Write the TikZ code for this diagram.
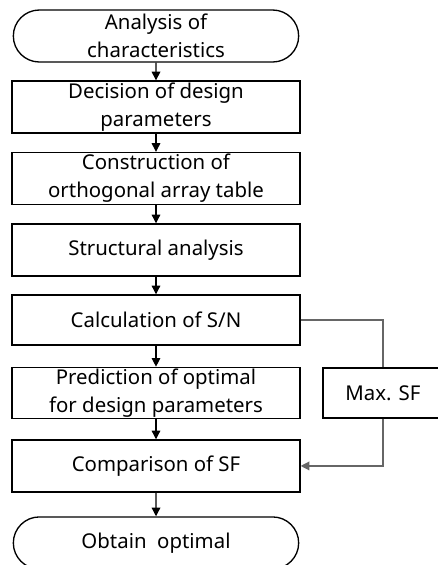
\documentclass[tikz,border=0pt]{standalone}
\usepackage{fontspec}
\setmainfont{Noto Sans}
\usetikzlibrary{shapes.misc,positioning,arrows.meta}
\tikzset{
  stepbox/.style={draw,line width=1pt,minimum width=216pt,minimum height=39pt,
    align=center,inner sep=1pt,font=\fontsize{15.3}{21}\selectfont},
  termbox/.style={stepbox,rounded rectangle},
  flow/.style={-{Triangle[length=6.5pt,width=6.5pt]},line width=.9pt},
  loopline/.style={line width=.9pt,draw=black!60}
}
\begin{document}
\begin{tikzpicture}[x=1pt,y=1pt,on grid]
  \useasboundingbox (0,0) rectangle (328.5,-423.75);
  % main column
  \node[termbox] (start) at (117,-27) {Analysis of\\characteristics};
  \node[stepbox,below=53.25pt of start] (design) {Decision of design\\parameters};
  \node[stepbox,below=53.6pt of design] (table) {Construction of\\orthogonal array table};
  \node[stepbox,below=53.6pt of table] (fem) {Structural analysis};
  \node[stepbox,below=52.5pt of fem,minimum height=37.5pt] (sn) {Calculation of S/N};
  \node[stepbox,below=54.75pt of sn,minimum height=37.5pt] (predict) {Prediction of optimal\\for design parameters};
  \node[stepbox,below=54.75pt of predict] (compare) {Comparison of SF};
  \node[termbox,below=57.75pt of compare] (finish) {Obtain~~optimal};
  % side branch
  \node[stepbox,minimum width=90pt,minimum height=37.5pt,right=170.25pt of predict] (maxsf) {Max. SF};

  \foreach \a/\b in {start/design,design/table,table/fem,fem/sn,sn/predict,predict/compare,compare/finish}
    \draw[flow] (\a) -- (\b);

  \draw[loopline] (sn.east) -| (maxsf.north);
  \draw[loopline,flow] (maxsf.south) |- (compare.east);
\end{tikzpicture}
\end{document}
